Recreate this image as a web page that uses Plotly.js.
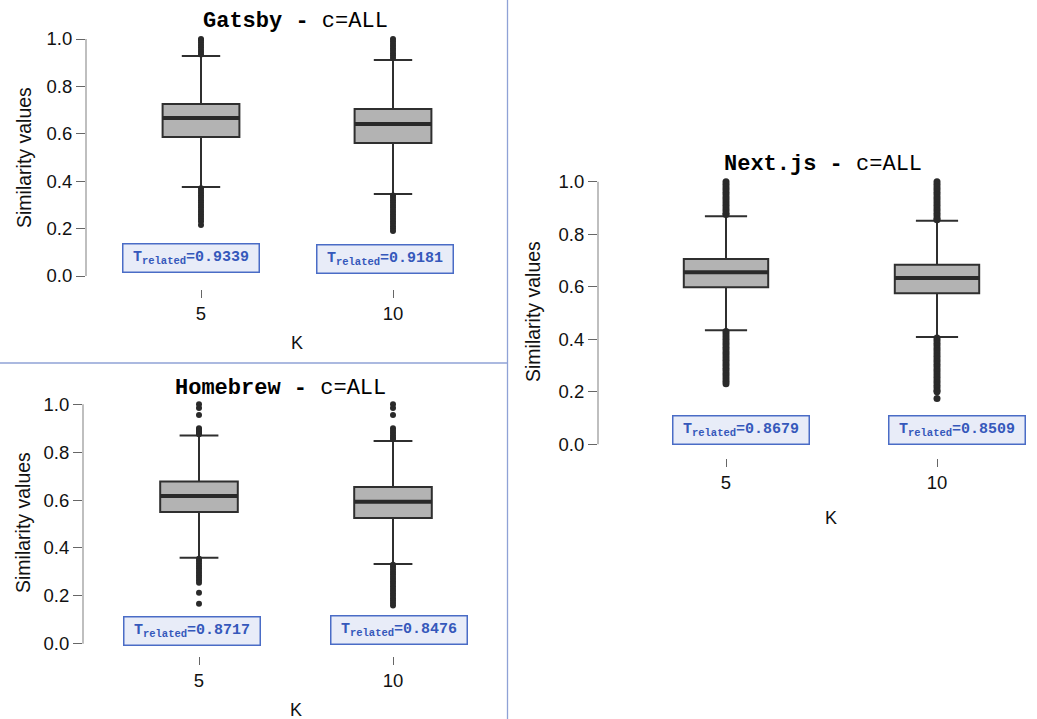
<!DOCTYPE html>
<html><head><meta charset="utf-8">
<script src="https://cdn.plot.ly/plotly-3.0.1.min.js"></script>
<style>html,body{margin:0;padding:0;background:#fff}#chart{width:1037px;height:719px}</style>
</head><body><div id="chart"></div>
<script>
// ---------------- data ----------------
const K_LABELS = ['5', '10'];
const PROJECTS = ['Gatsby', 'Homebrew', 'Next.js'];
const CONFIG_LABEL = 'c=ALL';

const GATSBY_Q1 = [0.587, 0.561];
const GATSBY_MEDIAN = [0.667, 0.641];
const GATSBY_Q3 = [0.726, 0.705];
const GATSBY_LOW = [0.376, 0.346];
const GATSBY_HIGH = [0.928, 0.911];
const GATSBY_OUT_K5 = [1.0, 0.995, 0.985, 0.975, 0.965, 0.955, 0.945, 0.935,
  0.37, 0.36, 0.35, 0.34, 0.33, 0.32, 0.31, 0.30, 0.29, 0.28, 0.27, 0.26, 0.25, 0.24, 0.23, 0.215];
const GATSBY_OUT_K10 = [1.0, 0.99, 0.98, 0.97, 0.96, 0.95, 0.94, 0.93, 0.92,
  0.34, 0.33, 0.32, 0.31, 0.30, 0.29, 0.28, 0.27, 0.26, 0.25, 0.24, 0.23, 0.22, 0.21, 0.20, 0.19];
const GATSBY_T = [0.9339, 0.9181];

const HOMEBREW_Q1 = [0.550, 0.525];
const HOMEBREW_MEDIAN = [0.617, 0.593];
const HOMEBREW_Q3 = [0.678, 0.655];
const HOMEBREW_LOW = [0.359, 0.333];
const HOMEBREW_HIGH = [0.870, 0.847];
const HOMEBREW_OUT_K5 = [1.0, 0.985, 0.955, 0.90, 0.895, 0.89, 0.885, 0.88, 0.875,
  0.355, 0.345, 0.335, 0.325, 0.315, 0.305, 0.295, 0.285, 0.275, 0.265, 0.255, 0.213, 0.167];
const HOMEBREW_OUT_K10 = [1.0, 0.985, 0.955, 0.90, 0.89, 0.88, 0.87, 0.86, 0.855,
  0.33, 0.32, 0.31, 0.30, 0.29, 0.28, 0.27, 0.26, 0.25, 0.24, 0.23, 0.22, 0.21, 0.20, 0.19, 0.18, 0.17, 0.16];
const HOMEBREW_T = [0.8717, 0.8476];

const NEXT_Q1 = [0.598, 0.575];
const NEXT_MEDIAN = [0.655, 0.633];
const NEXT_Q3 = [0.706, 0.684];
const NEXT_LOW = [0.434, 0.409];
const NEXT_HIGH = [0.868, 0.851];
const NEXT_OUT_K5 = [1.0, 0.99, 0.98, 0.97, 0.96, 0.95, 0.94, 0.93, 0.92, 0.91, 0.90, 0.89, 0.88, 0.875,
  0.43, 0.42, 0.41, 0.40, 0.39, 0.38, 0.37, 0.36, 0.35, 0.34, 0.33, 0.32, 0.31, 0.30, 0.29, 0.28, 0.27, 0.26, 0.25, 0.24, 0.231];
const NEXT_OUT_K10 = [1.0, 0.99, 0.98, 0.97, 0.96, 0.95, 0.94, 0.93, 0.92, 0.91, 0.90, 0.89, 0.88, 0.87, 0.86, 0.855,
  0.405, 0.395, 0.385, 0.375, 0.365, 0.355, 0.345, 0.335, 0.325, 0.315, 0.305, 0.295, 0.285, 0.275, 0.265, 0.255, 0.245, 0.235, 0.225, 0.215, 0.205, 0.20, 0.174];
const NEXT_T = [0.8679, 0.8509];

const Y_TICKS = [0, 0.2, 0.4, 0.6, 0.8, 1.0];

// ---------------- layout geometry (pixels) ----------------
const W = 1037, H = 719;
const SANS = 'Liberation Sans, Arial, Helvetica, sans-serif';
const MONO = 'Liberation Mono, Courier New, monospace';
const BOX_W = 0.4;

const panels = [
  { name: PROJECTS[0], q1: GATSBY_Q1, med: GATSBY_MEDIAN, q3: GATSBY_Q3, lo: GATSBY_LOW, hi: GATSBY_HIGH,
    out: [GATSBY_OUT_K5, GATSBY_OUT_K10], t: GATSBY_T,
    g: { axisX: 86, c0: 201, c1: 393, right: 504, y1: 39, y0: 276, tickTop: 289,
         titleX: 295.5, titleY: 21, yTitleX: 24, yTitleY: 158, kX: 297, kY: 343,
         ann: [[-0.05, 0.078], [-0.04, 0.070]], tickSize: 18.5, mk: 6 } },
  { name: PROJECTS[1], q1: HOMEBREW_Q1, med: HOMEBREW_MEDIAN, q3: HOMEBREW_Q3, lo: HOMEBREW_LOW, hi: HOMEBREW_HIGH,
    out: [HOMEBREW_OUT_K5, HOMEBREW_OUT_K10], t: HOMEBREW_T,
    g: { axisX: 83, c0: 199, c1: 393, right: 505, y1: 404.3, y0: 643.7, tickTop: 656,
         titleX: 280, titleY: 388, yTitleX: 23, yTitleY: 523, kX: 296, kY: 710,
         ann: [[-0.034, 0.052], [0.03, 0.058]], tickSize: 18.5, mk: 6 } },
  { name: PROJECTS[2], q1: NEXT_Q1, med: NEXT_MEDIAN, q3: NEXT_Q3, lo: NEXT_LOW, hi: NEXT_HIGH,
    out: [NEXT_OUT_K5, NEXT_OUT_K10], t: NEXT_T,
    g: { axisX: 598, c0: 726, c1: 937, right: 1037, y1: 181.7, y0: 444.3, tickTop: 458,
         titleX: 822.5, titleY: 165, yTitleX: 533, yTitleY: 312, kX: 831, kY: 518,
         ann: [[0.073, 0.053], [0.095, 0.053]], tickSize: 18.5, mk: 7 } }
];

const traces = [];
const shapes = [];
const annotations = [];
const layout = {
  width: W, height: H, margin: { l: 0, r: 0, t: 0, b: 0 },
  paper_bgcolor: '#ffffff', plot_bgcolor: '#ffffff', showlegend: false
};

const px = v => v / W;
const py = v => 1 - v / H;

panels.forEach((p, k) => {
  const g = p.g;
  const sfx = k === 0 ? '' : String(k + 1);
  const xid = 'x' + sfx, yid = 'y' + sfx;
  const span = g.c1 - g.c0;
  const ys = g.y0 - g.y1;
  const topPx = g.y1 - 0.04 * ys, botPx = g.y0 + 0.04 * ys;

  layout['xaxis' + sfx] = {
    domain: [px(g.axisX), Math.min(1, px(g.right))],
    range: [(g.axisX - g.c0) / span, 1 + (g.right - g.c1) / span],
    anchor: 'free', position: py(g.tickTop),
    tickmode: 'array', tickvals: [0, 1], ticktext: K_LABELS,
    ticks: 'outside', ticklen: 8, tickwidth: 1, tickcolor: '#666',
    showline: false, showgrid: false, zeroline: false, fixedrange: true,
    tickfont: { family: SANS, size: g.tickSize, color: '#111' }
  };
  layout['yaxis' + sfx] = {
    domain: [py(botPx), py(topPx)],
    range: [-0.04, 1.04], anchor: xid,
    tickmode: 'array', tickvals: Y_TICKS, ticktext: Y_TICKS.map(v => v.toFixed(1)),
    ticks: 'outside', ticklen: 9, tickwidth: 1, tickcolor: '#666',
    showline: false, showgrid: false, zeroline: false, fixedrange: true,
    tickfont: { family: SANS, size: g.tickSize, color: '#111' }
  };

  // y axis line from 0 to 1 only (R style)
  shapes.push({ type: 'line', xref: xid + ' domain', yref: yid, x0: 0, x1: 0, y0: Y_TICKS[0], y1: Y_TICKS[Y_TICKS.length - 1],
    line: { color: '#aaaaaa', width: 1.5 } });

  traces.push({
    type: 'box', xaxis: xid, yaxis: yid, x: [0, 1],
    q1: p.q1, median: p.med, q3: p.q3, lowerfence: p.lo, upperfence: p.hi,
    width: BOX_W, whiskerwidth: 0.5, boxpoints: false,
    fillcolor: '#b3b3b3', line: { color: '#2f2f2f', width: 2 }, hoverinfo: 'skip'
  });

  p.out.forEach((vals, i) => {
    traces.push({
      type: 'scatter', mode: 'markers', xaxis: xid, yaxis: yid,
      x: vals.map(() => i), y: vals, cliponaxis: false,
      marker: { color: '#2a2a2a', size: g.mk }, hoverinfo: 'skip'
    });
    // thicker median line
    shapes.push({ type: 'line', xref: xid, yref: yid, x0: i - BOX_W / 2, x1: i + BOX_W / 2,
      y0: p.med[i], y1: p.med[i], line: { color: '#2a2a2a', width: 4 } });
    // threshold label
    annotations.push({
      xref: xid, yref: yid, x: i + g.ann[i][0], y: g.ann[i][1], showarrow: false,
      text: '<b>T<sub>related</sub>=' + p.t[i].toFixed(4) + '</b>',
      font: { family: MONO, size: 15, color: '#3558bb' },
      bgcolor: '#e8ecf8', bordercolor: '#4a6cc6', borderwidth: 1.5, borderpad: 2,
      width: 131, height: 23, xanchor: 'center', yanchor: 'middle'
    });
  });

  // panel title
  annotations.push({ xref: 'paper', yref: 'paper', x: px(g.titleX), y: py(g.titleY), showarrow: false,
    xanchor: 'center', yanchor: 'middle',
    text: '<b>' + p.name + ' -</b> ' + CONFIG_LABEL, font: { family: MONO, size: 22, color: '#000' } });
  // y title
  annotations.push({ xref: 'paper', yref: 'paper', x: px(g.yTitleX), y: py(g.yTitleY), showarrow: false,
    xanchor: 'center', yanchor: 'middle', textangle: -90,
    text: 'Similarity values', font: { family: SANS, size: 19.5, color: '#111' } });
  // x title
  annotations.push({ xref: 'paper', yref: 'paper', x: px(g.kX), y: py(g.kY), showarrow: false,
    xanchor: 'center', yanchor: 'middle',
    text: 'K', font: { family: SANS, size: 18, color: '#111' } });
});

// panel separators
shapes.push({ type: 'line', xref: 'paper', yref: 'paper', x0: px(507.5), x1: px(507.5), y0: 0, y1: 1,
  line: { color: '#8fa2d6', width: 1.3 } });
shapes.push({ type: 'line', xref: 'paper', yref: 'paper', x0: 0, x1: px(507.5), y0: py(363), y1: py(363),
  line: { color: '#8fa2d6', width: 1.3 } });

layout.shapes = shapes;
layout.annotations = annotations;

Plotly.newPlot('chart', traces, layout, { staticPlot: true, displayModeBar: false });
</script>
</body></html>
